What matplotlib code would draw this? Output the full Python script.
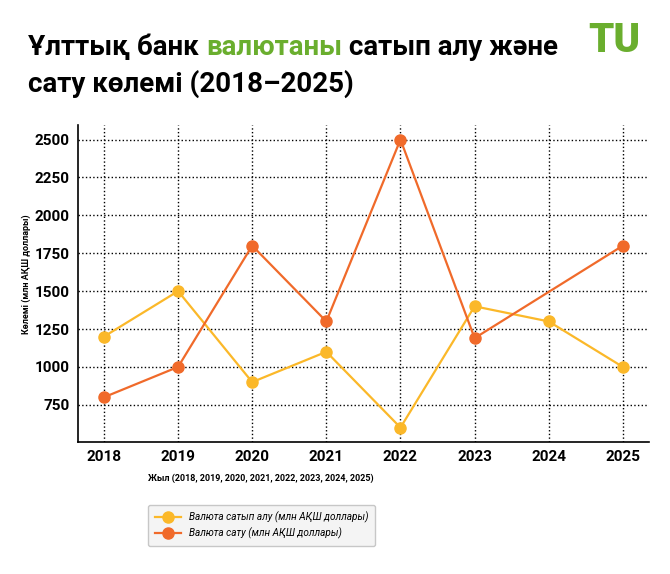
import numpy as np
import matplotlib
matplotlib.use('Agg')
import matplotlib.pyplot as plt

years = [2018, 2019, 2020, 2021, 2022, 2023, 2024, 2025]
buy = [1200, 1500, 900, 1100, 600, 1400, 1300, 1000]
sell = [800, 1000, 1800, 1300, 2500, 1190, None, 1800]

buy_label = 'Валюта сатып алу (млн АҚШ доллары)'
sell_label = 'Валюта сату (млн АҚШ доллары)'
y_ticks = [750, 1000, 1250, 1500, 1750, 2000, 2250, 2500]

BUY_COLOR = '#FBB829'
SELL_COLOR = '#F06A2A'
GREEN = '#6AAE2E'

plt.rcParams['font.family'] = ['Roboto', 'DejaVu Sans']

fig = plt.figure(figsize=(6.7, 5.74), dpi=100)
ax = fig.add_axes([0.1164, 0.230, 0.852, 0.552])

# sell has a gap in 2024; the line still joins 2023 to 2025
sx = [y for y, v in zip(years, sell) if v is not None]
sv = [v for v in sell if v is not None]

ax.plot(years, buy, color=BUY_COLOR, lw=1.6, marker='o', ms=8, label=buy_label, zorder=3)
ax.plot(sx, sv, color=SELL_COLOR, lw=1.6, marker='o', ms=8, label=sell_label, zorder=3)

ax.set_xticks(years)
ax.set_yticks(y_ticks)
ax.tick_params(length=0, pad=6, labelsize=11)
for lab in ax.get_xticklabels() + ax.get_yticklabels():
    lab.set_fontweight('bold')

ax.grid(True, linestyle=':', color='black', lw=1)
ax.set_axisbelow(True)
for s in ['top', 'right']:
    ax.spines[s].set_visible(False)
for s in ['left', 'bottom']:
    ax.spines[s].set_color('black')
    ax.spines[s].set_linewidth(1.2)

ax.set_xlabel('Жыл (2018, 2019, 2020, 2021, 2022, 2023, 2024, 2025)',
              fontsize=6.5, fontweight='bold')
ax.xaxis.set_label_coords(0.32, -0.1)
ax.set_ylabel('Көлемі (млн АҚШ доллары)', fontsize=6.5, fontweight='bold')
ax.yaxis.set_label_coords(-0.083, 0.53)

# title with one green word
t1 = fig.text(0.042, 0.905, 'Ұлттық банк ', fontsize=20, fontweight='bold', color='black')
fig.canvas.draw()
r = fig.canvas.get_renderer()
bb = t1.get_window_extent(r)
x2 = bb.x1 / fig.bbox.width
t2 = fig.text(x2, 0.905, 'валютаны', fontsize=20, fontweight='bold', color=GREEN)
bb2 = t2.get_window_extent(r)
x3 = bb2.x1 / fig.bbox.width
fig.text(x3, 0.905, ' сатып алу және', fontsize=20, fontweight='bold', color='black')
fig.text(0.042, 0.84, 'сату көлемі (2018–2025)', fontsize=20, fontweight='bold', color='black')

# logo
fig.text(0.878, 0.91, 'TU', fontsize=29, fontweight='black', color=GREEN)

leg = fig.legend(loc='center', bbox_to_anchor=(0.39, 0.0845), fontsize=7.2,
                 frameon=True, fancybox=True, facecolor='#F2F2F2', edgecolor='#BBBBBB',
                 handlelength=2.6, borderpad=0.7, labelspacing=0.45)
for txt in leg.get_texts():
    txt.set_fontstyle('italic')

fig.savefig('out.png', dpi=100)
